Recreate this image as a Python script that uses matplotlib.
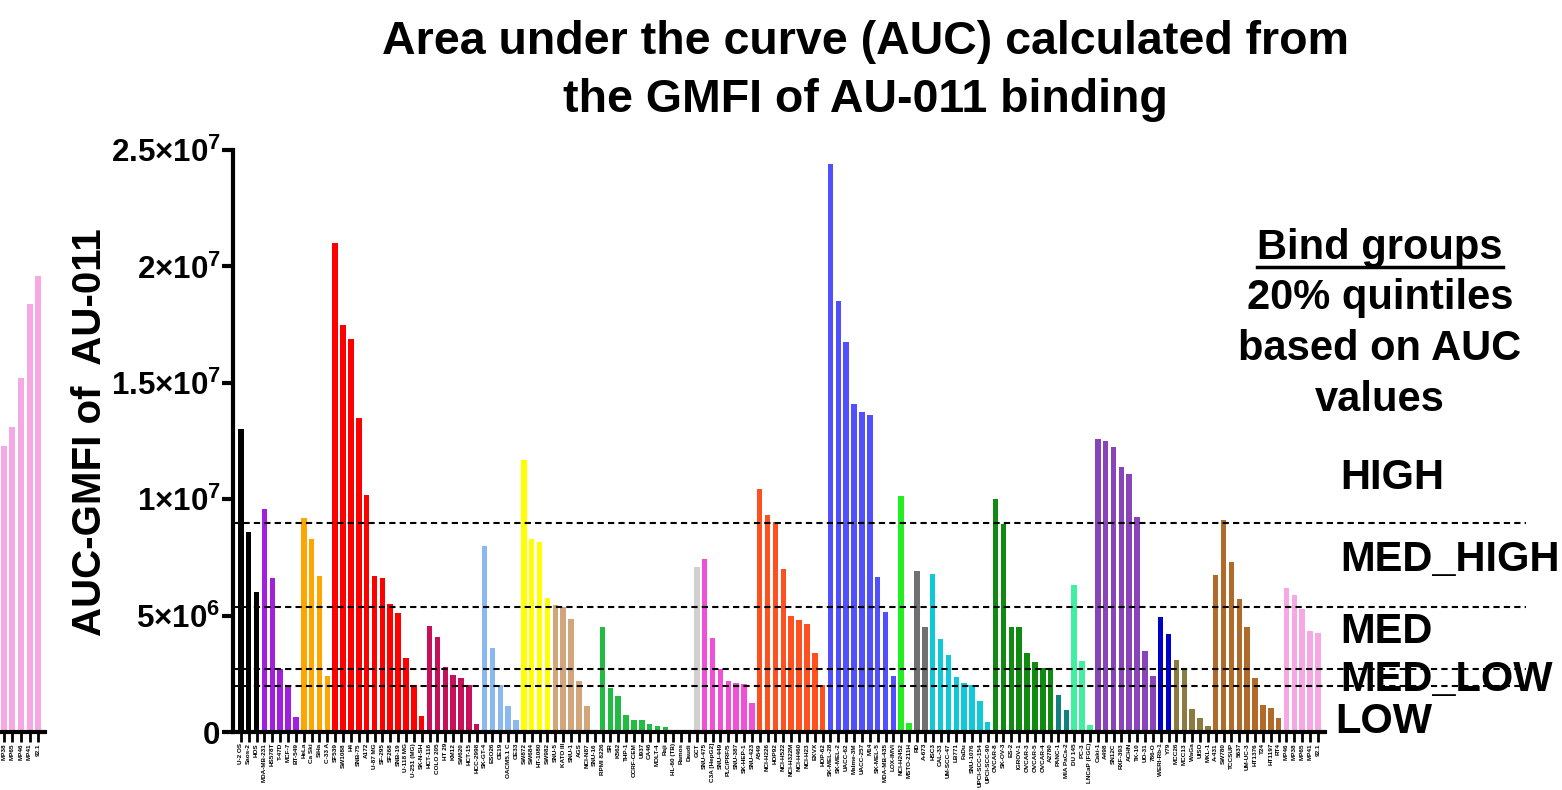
import matplotlib
matplotlib.use("Agg")
import matplotlib.pyplot as plt
import numpy as np

plt.rcParams['font.family'] = ['Liberation Sans', 'DejaVu Sans']
plt.rcParams['font.weight'] = 'bold'
plt.rcParams['mathtext.fontset'] = 'custom'
plt.rcParams['mathtext.rm'] = 'Liberation Sans:bold'
plt.rcParams['mathtext.bf'] = 'Liberation Sans:bold'

# cell lines, grouped by tissue (in plotted order)
groups = [
    ("Bone", ["U-2 OS", "Saos-2", "HOS"], [13.0, 8.6, 6.0]),
    ("Breast", ["MDA-MB-231", "HS578T", "T-47D", "MCF-7", "BT-549"], [9.6, 6.6, 2.7, 2.0, 0.65]),
    ("Cervical", ["HeLa", "Ca Ski", "SiHa", "C-33 A"], [9.2, 8.3, 6.7, 2.4]),
    ("CNS", ["SF539", "SW1088", "H4", "SNB-75", "A172", "U-87 MG", "SF-295", "SF268", "SNB-19",
             "U-118 MG", "U-251 (MG)", "SK-N-SH"],
     [21.0, 17.5, 16.9, 13.5, 10.2, 6.7, 6.6, 5.5, 5.1, 3.2, 2.0, 0.7]),
    ("Colon", ["HCT-116", "COLO 205", "HT 29", "KM12", "SW620", "HCT-15", "HCC-2998"],
     [4.55, 4.1, 2.8, 2.45, 2.3, 2.0, 0.35]),
    ("Esophageal", ["SK-GT-4", "ESO26", "OE19", "OACM5.1 C", "OE33"], [8.0, 3.6, 2.0, 1.1, 0.5]),
    ("Soft tissue", ["SW872", "SW684", "HT-1080", "SW982"], [11.7, 8.3, 8.15, 5.75]),
    ("Gastric", ["SNU-5", "KATO III", "SNU-1", "AGS", "NCI-N87", "SNU-16"],
     [5.45, 5.35, 4.85, 2.2, 1.1, 0.1]),
    ("Blood", ["RPMI 8226", "SR", "K562", "THP-1", "CCRF-CEM", "U937", "CA46", "MOLT-4", "Raji",
               "HL-60 (TB)", "Ramos", "Daudi"],
     [4.5, 1.9, 1.55, 0.75, 0.5, 0.5, 0.35, 0.25, 0.2, 0.1, 0.05, 0.05]),
    ("GCT", ["GCT"], [7.1]),
    ("Liver", ["SNU-475", "C3A [HepG2]", "SNU-449", "PLC/PRF/5", "SNU-387", "SK-HEP-1", "SNU-423"],
     [7.45, 4.05, 2.7, 2.2, 2.1, 2.05, 1.25]),
    ("Lung", ["A549", "NCI-H226", "HOP92", "NCI-H522", "NCI-H322M", "NCI-H460", "NCI-H23", "EKVX", "HOP-62"],
     [10.45, 9.3, 9.0, 7.0, 5.0, 4.8, 4.65, 3.4, 2.0]),
    ("Melanoma", ["SK-MEL-28", "SK-MEL-2", "UACC-62", "Malme-3M", "UACC-257", "M14", "SK-MEL-5",
                  "MDA-MB-435", "LOX-IMVI"],
     [24.4, 18.5, 16.75, 14.1, 13.75, 13.6, 6.65, 5.15, 2.4]),
    ("Mesothelioma", ["NCI-H2452", "MSTO-211H"], [10.15, 0.4]),
    ("Sarcoma", ["RD", "A-673"], [6.9, 4.5]),
    ("Head and neck", ["HSC3", "CAL-33", "UM-SCC-47", "LB771", "FaDu", "SNU-1076", "UPCI-SCC-154",
                       "UPCI-SCC-90"],
     [6.8, 4.0, 3.3, 2.35, 2.1, 2.0, 1.35, 0.45]),
    ("Ovarian", ["OVCAR-8", "SK-OV-3", "ES-2", "IGROV-1", "OVCAR-3", "OVCAR-5", "OVCAR-4", "A2780"],
     [10.0, 8.95, 4.5, 4.5, 3.4, 3.0, 2.75, 2.75]),
    ("Pancreatic", ["PANC-1", "MIA PaCa-2"], [1.6, 0.95]),
    ("Prostate", ["DU 145", "PC-3", "LNCaP (FGC)"], [6.3, 3.05, 0.3]),
    ("Renal", ["Caki-1", "A498", "SN12C", "RXF-393", "ACHN", "TK-10", "UO-31", "786-O"],
     [12.6, 12.5, 12.25, 11.4, 11.1, 9.25, 3.5, 2.4]),
    ("Retinoblastoma", ["WERI-Rb-1", "Y79"], [4.95, 4.2]),
    ("Merkel", ["MCC26", "MCC13", "WaGa", "UISO", "MKL-1"], [3.1, 2.65, 1.0, 0.6, 0.25]),
    ("Bladder", ["A-431", "SW780", "TCCSUP", "5637", "UM-UC-3", "HT1376", "T24", "HT1197", "RT4"],
     [6.75, 9.1, 7.3, 5.7, 4.5, 2.3, 1.15, 1.05, 0.6]),
    ("Uveal", ["MP46", "MP38", "MP65", "MP41", "92.1"], [6.2, 5.9, 5.3, 4.35, 4.25]),
]

# partial panel cut off at the left edge
left_lines = ["MP38", "MP65", "MP46", "MP41", "92.1"]
left_values = [12.3, 13.1, 15.2, 18.4, 19.6]

# group thresholds (x1e6)
cutoffs = [8.98, 5.37, 2.7, 1.98]
bind_groups = ["HIGH", "MED_HIGH", "MED", "MED_LOW", "LOW"]

colors = {
    "Bone": "#000000", "Breast": "#a21fe0", "Cervical": "#ffa500", "CNS": "#ff0000",
    "Colon": "#c8105a", "Esophageal": "#8ab8f0", "Soft tissue": "#ffff00", "Gastric": "#d2a67a",
    "Blood": "#22bb44", "GCT": "#d0d0d0", "Liver": "#f050d8", "Lung": "#ff5020",
    "Melanoma": "#5050ff", "Mesothelioma": "#22ee22", "Sarcoma": "#707070",
    "Head and neck": "#10c8d8", "Ovarian": "#108a10", "Pancreatic": "#108080",
    "Prostate": "#40f0a0", "Renal": "#8844b8", "Retinoblastoma": "#0000c8",
    "Merkel": "#8b7b40", "Bladder": "#b06a2a", "Uveal": "#f5a8e4",
}

names, vals, cols = [], [], []
for g, lines, v in groups:
    names += lines
    vals += v
    cols += [colors[g]] * len(lines)
vals = np.array(vals) * 1e6
x = np.arange(len(names))

W, H = 1562, 790
fig = plt.figure(figsize=(W / 100, H / 100), dpi=100)

def px_axes(x0, y0, x1, y1):
    return fig.add_axes([x0 / W, 1 - y1 / H, (x1 - x0) / W, (y1 - y0) / H])

ax = px_axes(233, 150, 1325, 732)
ax.bar(x, vals, width=0.7, color=cols, linewidth=0)
ax.set_xlim(-1.0, len(names) - 0.1)
ax.set_ylim(0, 2.5e7)
ax.set_xticks(x)
ax.set_xticklabels(names, rotation=90, fontsize=4.6, fontweight='bold')
ax.set_yticks([0, 5e6, 1e7, 1.5e7, 2e7, 2.5e7])
ax.set_yticklabels(["0", "5×10$^{6}$", "1×10$^{7}$", "1.5×10$^{7}$", "2×10$^{7}$", "2.5×10$^{7}$"],
                   fontsize=22.5, fontweight='bold')
for s in ["top", "right"]:
    ax.spines[s].set_visible(False)
for s in ["left", "bottom"]:
    ax.spines[s].set_linewidth(3)
ax.tick_params(axis='y', length=8, width=3, pad=1)
ax.tick_params(axis='x', length=7, width=2, pad=1)
ax.set_ylabel("AUC-GMFI of  AU-011", fontsize=29, fontweight='bold')
ax.yaxis.set_label_coords((109 - 233) / 1092, 0.515)

for c in cutoffs:
    ax.plot([-1.0, 163.5], [c * 1e6, c * 1e6], color='black', linestyle=(0, (3, 2)),
            linewidth=1.5, clip_on=False)

# left fragment
axl = px_axes(0, 0, 45, 732)
axl.bar(np.arange(len(left_lines)), np.array(left_values) * 1e6, width=0.7,
        color=colors["Uveal"], linewidth=0)
axl.set_xlim(-0.45, 4.8)
axl.set_ylim(0, (732 - 0) / 23.28 * 1e6)
axl.set_xticks(np.arange(len(left_lines)))
axl.set_xticklabels(left_lines, rotation=90, fontsize=4.6, fontweight='bold')
axl.set_yticks([])
for s in ["top", "right", "left"]:
    axl.spines[s].set_visible(False)
axl.spines["bottom"].set_linewidth(3)
axl.tick_params(axis='x', length=7, width=2, pad=1)

fig.text(865 / W, 1 - 42 / H, "Area under the curve (AUC) calculated from", ha='center', va='center',
         fontsize=33.5, fontweight='bold')
fig.text(865 / W, 1 - 100 / H, "the GMFI of AU-011 binding", ha='center', va='center',
         fontsize=33.5, fontweight='bold')

fig.text(1380 / W, 1 - 248 / H, "Bind groups", ha='center', va='center', fontsize=30, fontweight='bold')
fig.add_artist(plt.Line2D([1257 / W, 1503 / W], [1 - 267 / H, 1 - 267 / H], color='black', linewidth=2.5))
for txt, yy in [("20% quintiles", 298), ("based on AUC", 349), ("values", 400)]:
    fig.text(1380 / W, 1 - yy / H, txt, ha='center', va='center', fontsize=30, fontweight='bold')

for txt, xx, yy in zip(bind_groups, [1340, 1340, 1340, 1340, 1335], [478, 560, 632, 680, 722]):
    fig.text(xx / W, 1 - yy / H, txt, ha='left', va='center', fontsize=30, fontweight='bold')

fig.savefig("out.png", dpi=100)
